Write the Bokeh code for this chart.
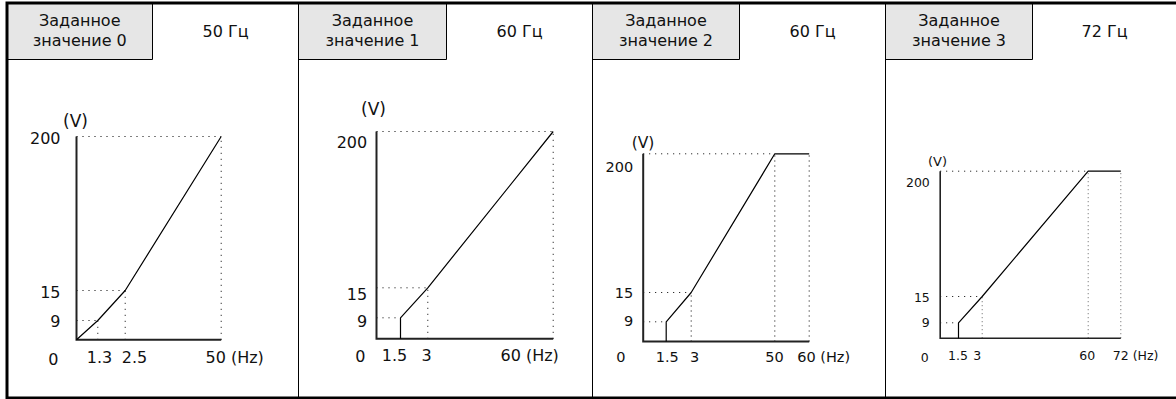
import numpy as np
from bokeh.plotting import figure
from bokeh.models import Range1d
from bokeh.core.properties import value
from bokeh.embed import file_html
from bokeh.resources import INLINE

# ---------------- data ----------------
setting_titles = ["Заданное\nзначение 0", "Заданное\nзначение 1",
                  "Заданное\nзначение 2", "Заданное\nзначение 3"]
base_freqs = ["50 Гц", "60 Гц", "60 Гц", "72 Гц"]

hz_0 = [0, 1.3, 2.5, 50]
volt_0 = [0, 9, 15, 200]
hz_1 = [1.5, 1.5, 3, 60]
volt_1 = [0, 9, 15, 200]
hz_2 = [1.5, 1.5, 3, 50, 60]
volt_2 = [0, 9, 15, 200, 200]
hz_3 = [1.5, 1.5, 3, 60, 72]
volt_3 = [0, 9, 15, 200, 200]

hz_ticks_0 = [1.3, 2.5, 50]
hz_ticks_1 = [1.5, 3, 60]
hz_ticks_2 = [1.5, 3, 50, 60]
hz_ticks_3 = [1.5, 3, 60, 72]
volt_ticks = [9, 15, 200]

hz_unit = "(Hz)"
volt_unit = "(V)"
origin_label = "0"

# ---------------- layout / style (pixel space of the page) ----------------
FONT = value("DejaVu Sans")
TOP, BOTTOM, HEAD_BOTTOM = 2.5, 397.5, 59
panel_lefts = [6.5, 298, 592, 885]
box_rights = [152, 446, 739, 1032]
panel_rights = [298, 592, 885, 1176]

panels = [
    dict(hz=hz_0, volt=volt_0, ticks=hz_ticks_0,
         x_px=[76, 97.3, 124.7, 220.7], y_px=[339.3, 320, 290, 136],
         fs="16px", ufs="17px", tick_dx=[1.7, 9.3, -15.7], tick_dy=17.4,
         vl_dx=-16, vl_dy=[0, 1, 1.3], zero_dx=-18, zero_dy=19,
         unit_dx=-1, unit_dy=-16, axis_w=2, dot="1 5", vdot="1 5", vdot_color="#000"),
    dict(hz=hz_1, volt=volt_1, ticks=hz_ticks_1,
         x_px=[376, 400, 427.3, 552.7], y_px=[338.3, 317.3, 287.3, 131],
         fs="16px", ufs="17px", tick_dx=[-6, -1.3, -52.7], tick_dy=16.2,
         vl_dx=-9.3, vl_dy=[2.7, 6, 10], zero_dx=-11, zero_dy=16.7,
         unit_dx=-3, unit_dy=-22.7, axis_w=2, dot="1 5", vdot="1 5", vdot_color="#000"),
    dict(hz=hz_2, volt=volt_2, ticks=hz_ticks_2,
         x_px=[642.7, 665.7, 690.7, 774.3, 808.7], y_px=[341, 321.3, 292, 153.3],
         fs="14.5px", ufs="15.5px", tick_dx=[1, 3.3, -0.3, -12], tick_dy=15,
         vl_dx=-10, vl_dy=[-1.3, 0, 12.7], zero_dx=-17.7, zero_dy=15.7,
         unit_dx=-0.2, unit_dy=-10.8, axis_w=2, dot="1 5", vdot="1 4", vdot_color="#000"),
    dict(hz=hz_3, volt=volt_3, ticks=hz_ticks_3,
         x_px=[939.7, 958, 981.7, 1087.7, 1120.3], y_px=[337.7, 322.3, 296, 170.7],
         fs="12.5px", ufs="13px", tick_dx=[-0.5, -5, -1, -8], tick_dy=17.3,
         vl_dx=-10.4, vl_dy=[0, 1.3, 11], zero_dx=-11.4, zero_dy=19.6,
         unit_dx=-2.7, unit_dy=-10.2, axis_w=1.6, dot="1 5", vdot="1 3", vdot_color="#666"),
]

p = figure(width=1176, height=399,
           x_range=Range1d(0, 1176), y_range=Range1d(399, 0),
           output_backend="svg", toolbar_location=None, min_border=0,
           x_axis_location=None, y_axis_location=None)
p.grid.visible = False
p.outline_line_color = None
p.background_fill_color = "white"
p.border_fill_color = "white"

# header boxes
p.quad(left=panel_lefts, right=box_rights, top=TOP, bottom=HEAD_BOTTOM,
       fill_color="#e6e6e6", line_color="black", line_width=1)
# frame and dividers
p.line(x=[1190, 6.5, 6.5, 1190], y=[TOP, TOP, BOTTOM, BOTTOM],
       line_color="black", line_width=3, line_join="miter")
p.segment(x0=panel_lefts[1:], y0=TOP, x1=panel_lefts[1:], y1=BOTTOM,
          line_color="black", line_width=1)

# header texts
l1, l2, cx = [], [], []
for t, a, b in zip(setting_titles, panel_lefts, box_rights):
    s = t.split("\n")
    l1.append(s[0]); l2.append(s[1]); cx.append((a + b) / 2)
p.text(x=cx, y=[19.5] * 4, text=l1, text_font=FONT, text_font_size="16px",
       text_align="center", text_baseline="middle", text_color="#111")
p.text(x=cx, y=[39.5] * 4, text=l2, text_font=FONT, text_font_size="16px",
       text_align="center", text_baseline="middle", text_color="#111")
p.text(x=[(b + r) / 2 for b, r in zip(box_rights, panel_rights)], y=[30.5] * 4,
       text=base_freqs, text_font=FONT, text_font_size="16px",
       text_align="center", text_baseline="middle", text_color="#111")

# charts
for P in panels:
    kx = [0] + P["ticks"]
    ky = [0] + volt_ticks
    X = lambda v, P=P, kx=kx: np.interp(np.asarray(v, float), kx, P["x_px"])
    Y = lambda v, P=P, ky=ky: np.interp(np.asarray(v, float), ky, P["y_px"])
    hz, volt = P["hz"], P["volt"]
    xmax, vmax = max(P["ticks"]), max(volt_ticks)

    # dotted guides
    hx0, hx1, hy, vx, vy0, vy1 = [], [], [], [], [], []
    seen = set()
    zero_x = {h for h, v in zip(hz, volt) if v == 0}
    for h, v in zip(hz, volt):
        if v == 0:
            continue
        if v not in seen:
            seen.add(v); hx0.append(0); hx1.append(h); hy.append(v)
        if h not in zero_x:
            vx.append(h); vy0.append(0); vy1.append(v)
    p.segment(x0=X(hx0), y0=Y(hy), x1=X(hx1), y1=Y(hy), line_color="#000",
              line_width=1, line_dash=P["dot"])
    p.segment(x0=X(vx), y0=Y(vy0), x1=X(vx), y1=Y(vy1), line_color=P["vdot_color"],
              line_width=1, line_dash=P["vdot"])

    # axes
    p.line(x=X([0, 0, xmax]), y=Y([vmax, 0, 0]), line_color="#222",
           line_width=P["axis_w"], line_join="miter")
    # V/f curve
    p.line(x=X(hz), y=Y(volt), line_color="black", line_width=1.2)

    # x tick labels
    tk = P["ticks"]
    xs = X(tk) + np.array(P["tick_dx"])
    ylab = float(Y(0)) + P["tick_dy"]
    p.text(x=xs[:-1], y=[ylab] * (len(tk) - 1), text=[f"{t:g}" for t in tk[:-1]],
           text_font=FONT, text_font_size=P["fs"], text_align="center",
           text_baseline="middle", text_color="#111")
    p.text(x=[xs[-1]], y=[ylab], text=[f"{tk[-1]:g} {hz_unit}"],
           text_font=FONT, text_font_size=P["fs"], text_align="left",
           text_baseline="middle", text_color="#111")
    # y tick labels
    p.text(x=[float(X(0)) + P["vl_dx"]] * len(volt_ticks),
           y=Y(volt_ticks) + np.array(P["vl_dy"]), text=[f"{v:g}" for v in volt_ticks],
           text_font=FONT, text_font_size=P["fs"], text_align="right",
           text_baseline="middle", text_color="#111")
    # origin label and unit
    p.text(x=[float(X(0)) + P["zero_dx"]], y=[float(Y(0)) + P["zero_dy"]],
           text=[origin_label], text_font=FONT, text_font_size=P["fs"],
           text_align="right", text_baseline="middle", text_color="#111")
    p.text(x=[float(X(0)) + P["unit_dx"]], y=[float(Y(vmax)) + P["unit_dy"]],
           text=[volt_unit], text_font=FONT, text_font_size=P["ufs"],
           text_align="center", text_baseline="middle", text_color="#111")

open("out.html", "w").write(file_html(p, INLINE))
